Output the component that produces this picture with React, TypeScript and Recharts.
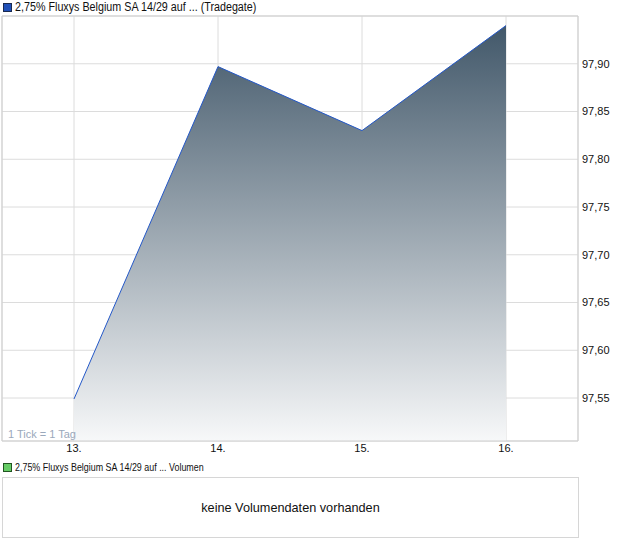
import React from 'react';
import { Area, ComposedChart, CartesianGrid, ReferenceArea, XAxis, YAxis } from 'recharts';

const days = [13, 14, 15, 16];
const prices = [97.549, 97.897, 97.83, 97.94];
const priceTicks = [97.55, 97.6, 97.65, 97.7, 97.75, 97.8, 97.85, 97.9];

const data = days.map((day, i) => ({ day, price: prices[i] }));

const font = '"Liberation Sans", Arial, sans-serif';

export default function App() {
  return (
    <div style={{ position: 'absolute', left: 0, top: 0, width: 620, height: 546, background: '#fff', fontFamily: font }}>
      <div style={{ position: 'absolute', left: 3, top: 3, width: 7, height: 7, background: '#2050b8', border: '1px solid #1a2a50' }} />
      <div
        style={{
          position: 'absolute',
          left: 15,
          top: 0,
          fontSize: 12,
          lineHeight: '14px',
          color: '#111',
          whiteSpace: 'nowrap',
          transform: 'scaleX(0.895)',
          transformOrigin: 'left center',
        }}
      >
        2,75% Fluxys Belgium SA 14/29 auf ... (Tradegate)
      </div>

      <ComposedChart
        width={620}
        height={460}
        data={data}
        margin={{ top: 16, right: 0, bottom: 0, left: 2 }}
        style={{ position: 'absolute', left: 0, top: 0 }}
      >
        <defs>
          <linearGradient id="priceFill" x1="0" y1="0" x2="0" y2="1">
            <stop offset="0%" stopColor="#42586a" />
            <stop offset="100%" stopColor="#f7f8f9" />
          </linearGradient>
        </defs>
        <CartesianGrid stroke="#dcdcdc" />
        <XAxis
          dataKey="day"
          type="number"
          domain={[12.5, 16.5]}
          ticks={days}
          tickFormatter={(v: number) => `${v}.`}
          axisLine={false}
          tickLine={false}
          tickSize={3}
          tickMargin={0}
          height={19}
          tick={{ fill: '#111', fontSize: 11, fontFamily: font }}
        />
        <YAxis
          orientation="right"
          type="number"
          domain={[97.505, 97.95]}
          ticks={priceTicks}
          tickFormatter={(v: number) => v.toFixed(2).replace('.', ',')}
          axisLine={false}
          tickLine={false}
          tickSize={4}
          tickMargin={0}
          width={42}
          tick={{ fill: '#111', fontSize: 11, fontFamily: font, textAnchor: 'start' }}
        />
        <Area
          type="linear"
          dataKey="price"
          stroke="#2458c8"
          strokeWidth={1}
          fill="url(#priceFill)"
          fillOpacity={1}
          isAnimationActive={false}
          dot={false}
          activeDot={false}
        />
        <ReferenceArea x1={12.5} x2={16.5} y1={97.505} y2={97.95} fill="none" stroke="#cfcfcf" ifOverflow="visible" />
      </ComposedChart>

      <div style={{ position: 'absolute', left: 8, top: 428, fontSize: 11, lineHeight: '13px', color: '#9aa8bb' }}>1 Tick = 1 Tag</div>

      <div style={{ position: 'absolute', left: 3, top: 463, width: 7, height: 7, background: '#66cc66', border: '1px solid #225522' }} />
      <div
        style={{
          position: 'absolute',
          left: 15,
          top: 461,
          fontSize: 11,
          lineHeight: '12px',
          color: '#111',
          whiteSpace: 'nowrap',
          transform: 'scaleX(0.81)',
          transformOrigin: 'left center',
        }}
      >
        2,75% Fluxys Belgium SA 14/29 auf ... Volumen
      </div>
      <div
        style={{
          position: 'absolute',
          left: 2,
          top: 477,
          width: 575,
          height: 59,
          border: '1px solid #d6d6d6',
          display: 'flex',
          alignItems: 'center',
          justifyContent: 'center',
          fontSize: 12.7,
          color: '#111',
        }}
      >
        keine Volumendaten vorhanden
      </div>
    </div>
  );
}
